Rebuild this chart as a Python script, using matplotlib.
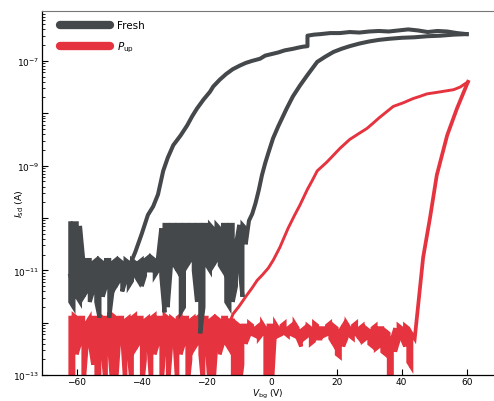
import numpy as np
import matplotlib
matplotlib.use("Agg")
import matplotlib.pyplot as plt
from matplotlib.lines import Line2D
from matplotlib.ticker import LogLocator, NullFormatter

# =============================
# DATA (log10 of I_sd in A)
# =============================
# Fresh: noisy floor at the start of the forward sweep (top / bottom of each spike)
fresh_floor_v = np.arange(-62, -7)
fresh_floor_hi = [-10.1, -10.1, -10.1, -10.15, -10.8, -10.8, -10.8, -10.85, -10.8, -10.8,
                  -10.85, -10.8, -10.8, -10.85, -10.8, -10.8, -10.85, -10.8, -10.85, -10.8,
                  -10.85, -10.85, -10.8, -10.8, -10.75, -10.75, -10.8, -10.75, -10.2,
                  -10.13, -10.13, -10.13, -10.13, -10.13, -10.13, -10.13, -10.13, -10.13,
                  -10.13, -10.13, -10.13, -10.13, -10.13, -10.13, -10.2, -10.13, -10.2,
                  -10.13, -10.13, -10.13, -10.13, -10.5, -10.13, -10.13, -10.2]
fresh_floor_lo = [-11.6, -11.7, -11.5, -11.6, -11.5, -11.4, -11.6, -11.4, -11.6, -11.9,
                  -11.5, -11.3, -11.9, -11.4, -11.3, -11.2, -11.4, -11.2, -11.3, -11.2,
                  -11.1, -11.2, -11.3, -11.1, -11.0, -11.0, -11.1, -11.0, -11.1,
                  -11.8, -11.7, -10.9, -10.9, -11.0, -11.8, -11.7, -10.9, -10.8, -11.0,
                  -11.6, -12.2, -11.7, -10.9, -11.0, -10.9, -10.8, -10.9, -11.0, -11.6,
                  -11.7, -11.6, -11.3, -10.9, -11.5, -10.5]

# Fresh: forward sweep inner branch
fresh_rise_v = [-7, -6, -5, -4, -3, -2, -1, 0.4, 2, 3, 4.6, 6.5, 8.7, 11, 14, 16.5, 19,
                21.5, 24, 27, 30, 33, 36, 40, 44, 48, 52, 56, 60]
fresh_rise_logi = [-10.05, -9.92, -9.72, -9.47, -9.18, -8.95, -8.75, -8.48, -8.25, -8.12,
                   -7.91, -7.68, -7.47, -7.27, -7.02, -6.92, -6.83, -6.77, -6.72, -6.67,
                   -6.63, -6.6, -6.58, -6.56, -6.55, -6.53, -6.52, -6.5, -6.49]

# Fresh: backward sweep (plateau, outer branch, floor)
fresh_bwd_v = [60, 57, 54, 51, 48, 45, 42, 39, 36, 33, 30, 27, 24, 21, 18, 15, 13, 11, 11,
               9.6, 8, 6.6, 4, 2, 0, -2, -3.6, -6, -8, -9.8, -12, -14, -16, -18, -19, -21,
               -23, -24.5, -26, -28, -30.3, -32, -33.4, -35, -36.5, -38.1, -40, -42, -44,
               -45.7, -47, -48, -49, -50, -51, -52, -53, -54, -55, -56, -57, -58, -59,
               -60, -61, -62]
fresh_bwd_logi = [-6.49, -6.47, -6.44, -6.43, -6.45, -6.42, -6.4, -6.42, -6.44, -6.43,
                  -6.44, -6.46, -6.45, -6.47, -6.47, -6.49, -6.5, -6.52, -6.72, -6.73,
                  -6.75, -6.77, -6.8, -6.84, -6.87, -6.9, -6.96, -7.0, -7.04, -7.09, -7.16,
                  -7.25, -7.36, -7.49, -7.59, -7.74, -7.91, -8.06, -8.23, -8.42, -8.61,
                  -8.85, -9.1, -9.55, -9.78, -9.94, -10.3, -10.65, -10.95, -11.2, -11.1,
                  -11.3, -11.0, -11.2, -10.9, -11.3, -11.0, -11.2, -10.9, -11.1, -11.3,
                  -10.9, -11.2, -11.0, -11.3, -11.1]

# P_up: noisy floor of the forward sweep
pup_floor_v = np.arange(-62, 44)
pup_floor_hi = [-11.9, -11.85, -11.9, -11.9, -11.9, -12.0, -11.9, -11.9, -11.9, -11.85,
                -11.9, -11.9, -11.9, -11.85, -11.9, -11.9, -11.9, -11.95, -11.9, -11.9,
                -11.85, -11.9, -11.9, -11.95, -11.9, -11.9, -11.85, -11.9, -11.9, -11.85,
                -11.9, -11.9, -11.95, -11.9, -11.85, -11.9, -11.9, -11.95, -11.9, -11.9,
                -11.85, -11.9, -11.9, -11.95, -11.9, -11.9, -11.95, -11.9, -11.9, -11.95,
                -11.95, -12.0, -12.05, -12.05, -12.05,
                -12.0, -12.05, -12.1, -12.05, -12.0, -12.1, -12.05, -12.05, -12.0, -12.1,
                -12.05, -12.0, -12.1, -12.05, -12.0, -12.1, -12.15, -12.1, -12.05, -12.1,
                -12.0, -12.05, -12.1, -12.1, -12.05, -12.0, -12.05, -12.1, -12.15, -12.05,
                -12.0, -12.1, -12.05, -12.0, -12.1, -12.05, -12.1, -12.15, -12.1, -12.05,
                -12.1, -12.1, -12.15, -12.2, -12.3, -12.1, -12.05, -12.1, -12.05, -12.1,
                -12.2]
pup_floor_lo = [-13.3, -13.3, -12.6, -12.4, -13.3, -12.5, -12.4, -12.8, -13.3, -13.3,
                -12.6, -13.3, -12.5, -13.3, -13.3, -12.4, -12.3, -13.3, -12.6, -13.3,
                -12.5, -12.4, -13.3, -12.7, -12.4, -13.3, -12.6, -12.4, -13.3, -12.5,
                -13.3, -12.5, -12.3, -13.3, -12.6, -12.4, -13.3, -12.7, -12.5, -12.4,
                -12.6, -13.3, -12.5, -13.3, -13.3, -12.4, -12.6, -12.4, -12.4, -12.5,
                -13.3, -13.3, -13.3, -12.8, -12.4,
                -12.25, -12.22, -12.25, -12.3, -12.22, -13.3, -13.3, -13.3, -12.22, -12.25,
                -12.22, -12.2, -12.25, -12.22, -12.25, -12.3, -12.45, -12.3, -12.25, -12.4,
                -12.35, -12.3, -12.3, -12.25, -12.22, -12.3, -12.4, -12.6, -12.65, -12.45,
                -12.3, -12.25, -12.3, -12.22, -12.3, -12.35, -12.3, -12.4, -12.45, -12.5,
                -12.45, -12.55, -12.6, -13.3, -13.3, -12.55, -12.35, -12.3, -12.45, -12.75,
                -12.85]

# P_up: steep rise at the end of the forward sweep
pup_rise_v = [44, 45, 46.6, 48.7, 50.8, 54, 57, 60.4]
pup_rise_logi = [-12.3, -11.7, -10.75, -10.0, -9.18, -8.42, -7.91, -7.4]

# P_up: backward sweep upper branch
pup_bwd_v = [60.4, 58, 56, 54, 51, 47.8, 45.5, 43.5, 40.5, 37.4, 35, 33, 31, 29.3, 27,
             24, 21, 19, 17, 14, 12.5, 11, 8.7, 7, 5, 2.5, 0.5, -1, -2.8, -4.5, -6, -8,
             -10, -11.9, -13]
pup_bwd_logi = [-7.4, -7.5, -7.55, -7.57, -7.6, -7.63, -7.68, -7.72, -7.8, -7.87, -7.99,
                -8.09, -8.2, -8.29, -8.38, -8.5, -8.67, -8.8, -8.93, -9.1, -9.28, -9.45,
                -9.75, -9.95, -10.2, -10.56, -10.8, -10.95, -11.08, -11.19, -11.33, -11.5,
                -11.68, -11.83, -12.0]

labels = ["Fresh", "$P_{\\rm up}$"]
gray = "#45484b"
red = "#e5343f"


def spikes(v, hi, lo):
    # vertical noise spikes, alternating direction so the trace stays connected
    xs, ys = [], []
    for i in range(len(v)):
        xs += [v[i], v[i]]
        ys += [hi[i], lo[i]] if i % 2 == 0 else [lo[i], hi[i]]
    return xs, ys


fx, fy = spikes(fresh_floor_v, fresh_floor_hi, fresh_floor_lo)
fresh_fwd_v = fx + fresh_rise_v
fresh_fwd_logi = fy + fresh_rise_logi

px, py = spikes(pup_floor_v, pup_floor_hi, pup_floor_lo)
pup_fwd_v = px + pup_rise_v
pup_fwd_logi = py + pup_rise_logi

# =============================
# PLOT
# =============================
fig = plt.figure(figsize=(4.94, 4.02), dpi=100)
ax = fig.add_axes([0.085, 0.064, 0.913, 0.906])

ax.plot(pup_fwd_v, 10 ** np.array(pup_fwd_logi), color=red, lw=2.7,
        solid_joinstyle="miter")
ax.plot(pup_bwd_v, 10 ** np.array(pup_bwd_logi), color=red, lw=2.1)
ax.plot(fresh_fwd_v, 10 ** np.array(fresh_fwd_logi), color=gray, lw=2.9,
        solid_joinstyle="miter")
ax.plot(fresh_bwd_v, 10 ** np.array(fresh_bwd_logi), color=gray, lw=2.9)

ax.set_yscale("log")
ax.set_xlim(-70.7, 68.1)
ax.set_ylim(1e-13, 10 ** -6.05)

ax.set_xticks([-60, -40, -20, 0, 20, 40, 60])
ax.set_xticklabels(["\u221260", "\u221240", "\u221220", "0", "20", "40", "60"])
ax.set_yticks([1e-13, 1e-12, 1e-11, 1e-10, 1e-9, 1e-8, 1e-7])
ax.set_yticklabels(["$10^{-13}$", "", "$10^{-11}$", "", "$10^{-9}$", "", "$10^{-7}$"])
ax.yaxis.set_minor_locator(LogLocator(base=10, subs=np.arange(2, 10)))
ax.yaxis.set_minor_formatter(NullFormatter())

ax.tick_params(axis="both", which="major", direction="in", length=4, width=0.8,
               labelsize=6.5, pad=2)
ax.tick_params(axis="x", which="major", pad=1.5)
ax.tick_params(axis="y", which="minor", direction="in", length=2, width=0.6)

ax.spines["right"].set_visible(False)
ax.spines["top"].set_color("#777777")
ax.spines["top"].set_linewidth(0.8)
ax.spines["left"].set_linewidth(0.9)
ax.spines["bottom"].set_linewidth(0.9)

ax.set_xlabel("$V_{\\rm bg}$ (V)", fontsize=6.5)
ax.set_ylabel("$I_{\\rm sd}$ (A)", fontsize=6.8)
ax.xaxis.set_label_coords(0.501, -0.032)
ax.yaxis.set_label_coords(-0.036, 0.473)

handles = [Line2D([], [], color=gray, lw=6, solid_capstyle="round"),
           Line2D([], [], color=red, lw=6, solid_capstyle="round")]
ax.legend(handles, labels, loc="upper left", frameon=False, fontsize=7.5,
          handlelength=4.8, handletextpad=0.6, labelspacing=0.9,
          bbox_to_anchor=(0.02, 1.0))

fig.savefig("out.png", dpi=100)
